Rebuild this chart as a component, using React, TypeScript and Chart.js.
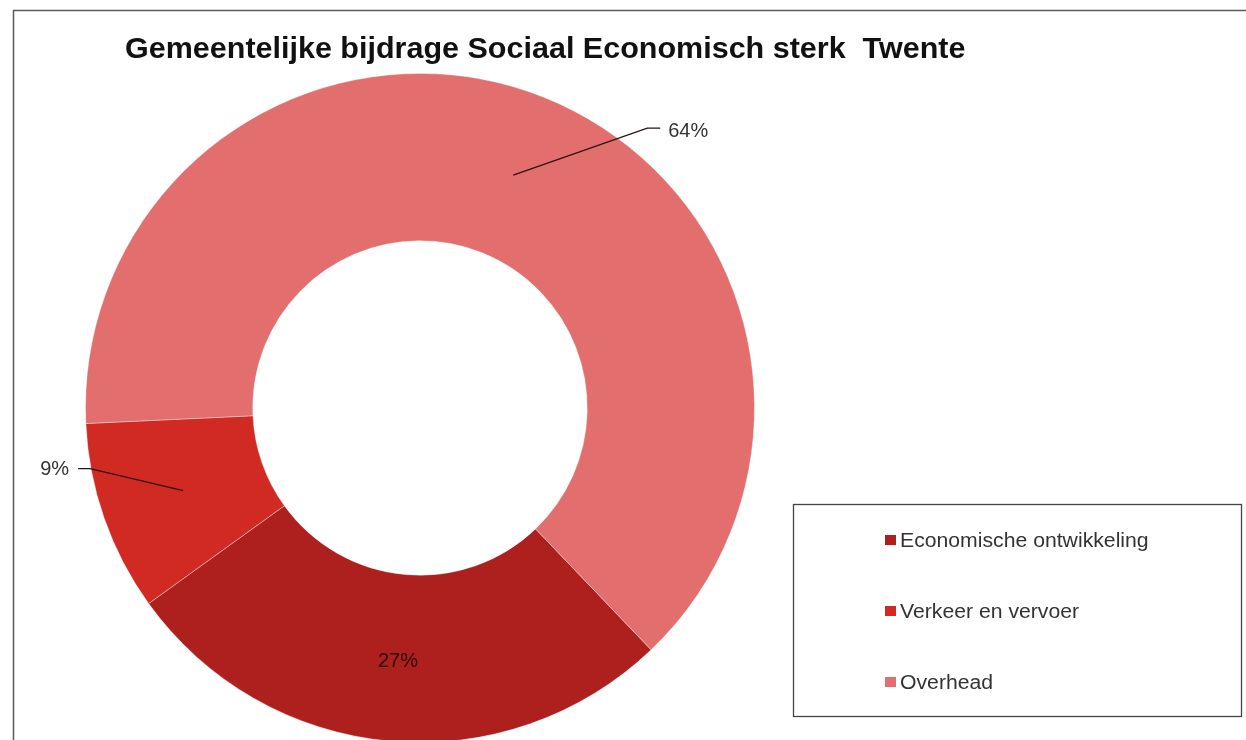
import React, { useEffect, useRef } from "react";
import { Chart, registerables } from "chart.js";

Chart.register(...registerables);

const TITLE = "Gemeentelijke bijdrage Sociaal Economisch sterk  Twente";
const categories = ["Economische ontwikkeling", "Verkeer en vervoer", "Overhead"];
const values = [27.2, 9.2, 63.6];
const percentLabels = ["27%", "9%", "64%"];
const colors = ["#AE201E", "#D12A22", "#E26E6E"];

// label placement relative to each slice's centroid (style only)
const labelStyles = [
  { kind: "inside", text: [1, 4] },
  { kind: "left", elbow: [-93, -22], end: [-105, -22], text: [-114, -21] },
  { kind: "right", elbow: [134, -47], end: [147, -47], text: [155, -44] },
];

const FONT = '"Liberation Sans", Arial, sans-serif';

function stretchedText(ctx: CanvasRenderingContext2D, text: string, x: number, y: number, sx: number) {
  ctx.save();
  ctx.translate(x, y);
  ctx.scale(sx, 1);
  ctx.fillText(text, 0, 0);
  ctx.restore();
}

const overlayPlugin = {
  id: "overlay",
  afterDraw(chart: any) {
    const ctx = chart.ctx as CanvasRenderingContext2D;
    ctx.save();
    // outer frame
    ctx.strokeStyle = "#5a5a5a";
    ctx.lineWidth = 1.5;
    ctx.strokeRect(13.5, 10.5, 1400, 900);

    // title
    ctx.fillStyle = "#111";
    ctx.font = `bold 30px ${FONT}`;
    ctx.textAlign = "left";
    ctx.textBaseline = "alphabetic";
    stretchedText(ctx, TITLE, 125, 58, 1.017);

    // data labels
    const meta = chart.getDatasetMeta(0);
    meta.data.forEach((arc: any, i: number) => {
      const p = arc.tooltipPosition();
      const st: any = labelStyles[i];
      ctx.font = `20px ${FONT}`;
      ctx.textBaseline = "middle";
      if (st.kind === "inside") {
        ctx.fillStyle = "#2a0808";
        ctx.textAlign = "center";
        ctx.fillText(percentLabels[i], p.x + st.text[0], p.y + st.text[1]);
      } else {
        ctx.strokeStyle = "#2a1010";
        ctx.lineWidth = 1.2;
        ctx.beginPath();
        ctx.moveTo(p.x, p.y);
        ctx.lineTo(p.x + st.elbow[0], p.y + st.elbow[1]);
        ctx.lineTo(p.x + st.end[0], p.y + st.end[1]);
        ctx.stroke();
        ctx.fillStyle = "#333";
        ctx.textAlign = st.kind === "left" ? "right" : "left";
        ctx.fillText(percentLabels[i], p.x + st.text[0], p.y + st.text[1]);
      }
    });

    // legend
    const bx = 793.5, by = 504.5, bw = 448, bh = 212;
    ctx.fillStyle = "#fff";
    ctx.fillRect(bx, by, bw, bh);
    ctx.strokeStyle = "#444";
    ctx.lineWidth = 1.3;
    ctx.strokeRect(bx, by, bw, bh);
    const rowY = [540, 611, 682];
    categories.forEach((c, i) => {
      ctx.fillStyle = colors[i];
      ctx.fillRect(885, rowY[i] - 5, 11, 10);
      ctx.fillStyle = "#333";
      ctx.font = `20px ${FONT}`;
      ctx.textAlign = "left";
      ctx.textBaseline = "middle";
      stretchedText(ctx, c, 900, rowY[i] + 1, 1.06);
    });
    ctx.restore();
  },
};

export default function App() {
  const ref = useRef<HTMLCanvasElement | null>(null);
  useEffect(() => {
    if (!ref.current) return;
    const chart = new Chart(ref.current, {
      type: "doughnut",
      data: {
        labels: categories,
        datasets: [
          {
            data: values,
            backgroundColor: colors,
            borderColor: "rgba(255,255,255,0.35)",
            borderWidth: 1,
          },
        ],
      },
      options: {
        animation: false,
        responsive: false,
        maintainAspectRatio: false,
        devicePixelRatio: 1,
        rotation: 136.3,
        cutout: "50%",
        layout: { padding: { left: 85, right: 491, top: 73, bottom: 17 } },
        plugins: {
          legend: { display: false },
          tooltip: { enabled: false },
          title: { display: false },
        },
      },
      plugins: [overlayPlugin],
    });
    return () => chart.destroy();
  }, []);
  return (
    <div
      style={{
        position: "fixed",
        left: 0,
        top: 0,
        width: 1246,
        height: 740,
        overflow: "hidden",
        background: "#fff",
      }}
    >
      <canvas ref={ref} width={1246} height={760} style={{ display: "block" }} />
    </div>
  );
}
